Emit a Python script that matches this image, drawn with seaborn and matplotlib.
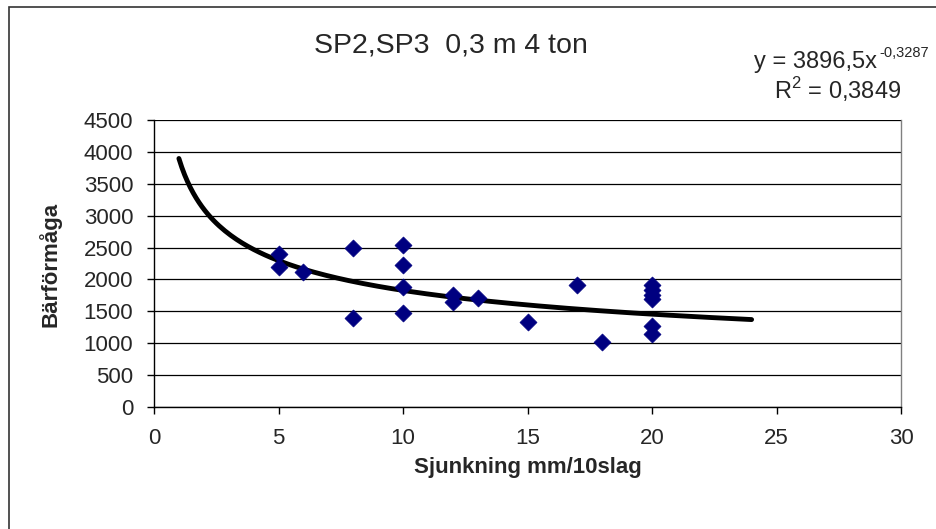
import numpy as np
import pandas as pd
import seaborn as sns
import matplotlib
import matplotlib.pyplot as plt
from matplotlib.patches import Rectangle

matplotlib.use("Agg")
sns.set_style("white")
plt.rcParams["font.family"] = ["Liberation Sans", "DejaVu Sans"]
plt.rcParams["mathtext.fontset"] = "custom"
plt.rcParams["mathtext.rm"] = "Liberation Sans"

# Data
sjunkning = [5, 5, 6, 8, 8, 10, 10, 10, 10, 12, 12, 13, 15, 17, 18, 20, 20, 20, 20, 20, 20]
barformaga = [2400, 2200, 2110, 2500, 1400, 2540, 2220, 1880, 1470, 1760, 1650, 1710,
              1330, 1910, 1020, 1910, 1830, 1750, 1690, 1270, 1150]

# Power trendline as printed on the chart
coef_a = 3896.5
coef_b = -0.3287
r2 = 0.3849
trend_start, trend_end = 1, 24

df = pd.DataFrame({"x": sjunkning, "y": barformaga})
xt = np.linspace(trend_start, trend_end, 200)
trend = pd.DataFrame({"x": xt, "y": coef_a * xt ** coef_b})

fig = plt.figure(figsize=(9.36, 5.29), dpi=100)
ax = fig.add_axes([154 / 936, 1 - 407 / 529, (901 - 154) / 936, (407 - 120) / 529])

# outer chart border
fig.patches.append(Rectangle((9 / 936, -0.1), 1.2, (1 - 7 / 529) + 0.1,
                             transform=fig.transFigure, fill=False,
                             edgecolor="#333333", linewidth=1.2))

sns.lineplot(data=trend, x="x", y="y", color="black", linewidth=3.5, ax=ax, zorder=3)
sns.scatterplot(data=df, x="x", y="y", marker="D", s=75, color="#000080",
                edgecolor="#000080", linewidth=0.5, ax=ax, zorder=4)

ax.set_xlim(0, 30)
ax.set_ylim(0, 4500)
ax.set_xticks(range(0, 31, 5))
ax.set_yticks(range(0, 4501, 500))
ax.yaxis.grid(True, color="black", linewidth=0.9)
ax.set_axisbelow(True)
ax.spines["top"].set_visible(False)
ax.spines["right"].set_color("#808080")
ax.spines["left"].set_color("black")
ax.spines["bottom"].set_color("black")
for s in ["left", "bottom", "right"]:
    ax.spines[s].set_linewidth(1)
ax.tick_params(axis="both", direction="out", length=5, width=1, color="black",
               labelsize=16, bottom=True, left=True)
ax.tick_params(axis="x", pad=10)
ax.tick_params(axis="y", pad=10)

ax.set_xlabel("Sjunkning mm/10slag", fontsize=16, fontweight="bold")
ax.set_ylabel("Bärförmåga", fontsize=16, fontweight="bold")
ax.xaxis.set_label_coords(0.5, -(468 - 407) / 287)
ax.yaxis.set_label_coords((50 - 154) / 747, 0.495)
ax.xaxis.label.set_va("center")
ax.yaxis.label.set_va("center")

fig.text(451 / 936, 1 - 45 / 529, "SP2,SP3  0,3 m 4 ton", fontsize=20.5,
         ha="center", va="center")
fig.text(877 / 936, 1 - 62 / 529, "y = 3896,5x", fontsize=17,
         ha="right", va="center")
fig.text(879 / 936, 1 - 53 / 529, "-0,3287", fontsize=10.5,
         ha="left", va="center")
fig.text(838 / 936, 1 - 90 / 529, "R$^{2}$ = 0,3849", fontsize=17,
         ha="center", va="center")

fig.savefig("out.png", dpi=100)
